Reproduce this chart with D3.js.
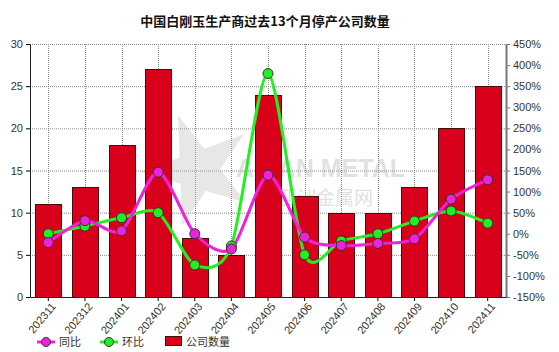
<!DOCTYPE html>
<html>
<head>
<meta charset="utf-8">
<script src="https://cdn.jsdelivr.net/npm/d3@7"></script>
<style>
  body { margin: 0; background: #fff; }
  svg text { font-family: "Liberation Sans", Arial, sans-serif; }
</style>
</head>
<body>
<svg class="chart"></svg>
<script>
let months = ["202311", "202312", "202401", "202402", "202403", "202404", "202405",
              "202406", "202407", "202408", "202409", "202410", "202411"]
let companies = [11, 13, 18, 27, 7, 5, 24, 12, 10, 10, 13, 20, 25]
let yoy = [-21, 31, 7, 146, 0, -36, 139, -8, -28, -23, -12, 82, 128]
let mom = [0, 18, 38, 50, -74, -29, 380, -50, -17, 0, 30, 54, 25]
let leftTicks = [0, 5, 10, 15, 20, 25, 30]
let rightTicks = [-150, -100, -50, 0, 50, 100, 150, 200, 250, 300, 350, 400, 450]

let width = 559
let height = 352
const margin = {top: 44, left: 30, right: 53, bottom: 55}

let svg = d3.select(".chart")
    .attr("width", width)
    .attr("height", height)

let xScale = d3.scaleBand()
    .domain(months)
    .range([margin.left, width - margin.right])
    .paddingInner(0.29)
    .paddingOuter(0.145)

let xCenter = d => xScale(d) + xScale.bandwidth() / 2

let yScale = d3.scaleLinear()
    .domain([0, 30])
    .range([height - margin.bottom, margin.top])

let pScale = d3.scaleLinear()
    .domain([-150, 450])
    .range([height - margin.bottom, margin.top])

// title
svg.append("text")
    .attr("x", 265)
    .attr("y", 26)
    .attr("text-anchor", "middle")
    .style("font-family", "'Noto Sans CJK SC', sans-serif")
    .style("font-size", "13px")
    .style("font-weight", "bold")
    .attr("fill", "#111")
    .text("中国白刚玉生产商过去13个月停产公司数量")

// grid
let grid = svg.append("g")
grid.selectAll("line.h")
    .data(leftTicks.slice(1))
    .enter()
    .append("line")
    .attr("x1", margin.left)
    .attr("x2", width - margin.right)
    .attr("y1", d => yScale(d) + 0.5)
    .attr("y2", d => yScale(d) + 0.5)
    .attr("stroke", "#888")
    .attr("stroke-dasharray", "1,1")
grid.selectAll("line.v")
    .data(months)
    .enter()
    .append("line")
    .attr("x1", d => Math.round(xCenter(d)) + 0.5)
    .attr("x2", d => Math.round(xCenter(d)) + 0.5)
    .attr("y1", margin.top)
    .attr("y2", height - margin.bottom)
    .attr("stroke", "#888")
    .attr("stroke-dasharray", "1,1")

// watermark
let wm = svg.append("g").attr("opacity", 0.35)
let star = d3.symbol().type(d3.symbolStar).size(3800)
wm.append("path")
    .attr("d", star())
    .attr("transform", "translate(198,170) rotate(-20)")
    .attr("fill", "#bbb")
wm.append("text")
    .attr("x", 236).attr("y", 177)
    .style("font-size", "25px").style("font-weight", "bold")
    .attr("fill", "#aaa")
    .text("ASIAN METAL")
wm.append("text")
    .attr("x", 278).attr("y", 205)
    .style("font-family", "'Noto Sans CJK SC', sans-serif")
    .style("font-size", "19px")
    .attr("fill", "#aaa")
    .text("亚洲金属网")

// bars
svg.append("g")
    .selectAll("rect")
    .data(companies)
    .enter()
    .append("rect")
    .attr("x", (d, i) => Math.round(xScale(months[i])) + 0.5)
    .attr("y", d => Math.round(yScale(d)) + 0.5)
    .attr("width", Math.round(xScale.bandwidth()))
    .attr("height", d => Math.round(yScale(0)) - Math.round(yScale(d)))
    .attr("fill", "#d9001b")
    .attr("stroke", "#4a0a0a")
    .attr("stroke-width", 1)

// axes
let leftAxis = svg.append("g")
    .attr("transform", `translate(${margin.left}, 0)`)
    .call(d3.axisLeft(yScale).tickValues(leftTicks).tickSize(4).tickSizeOuter(0))
leftAxis.select(".domain").attr("stroke", "#222")
leftAxis.selectAll("text").style("font-size", "11px").attr("fill", "#333")

let rightAxis = svg.append("g")
    .attr("transform", `translate(${width - margin.right}, 0)`)
    .call(d3.axisRight(pScale).tickValues(rightTicks).tickFormat(d => d + "%").tickSize(4).tickSizeOuter(0))
rightAxis.select(".domain").attr("stroke", "#777").attr("stroke-width", 2)
rightAxis.selectAll("line").attr("stroke", "#777")
rightAxis.selectAll("text").style("font-size", "11px").attr("fill", "#333")

let bottomAxis = svg.append("g")
    .attr("transform", `translate(0, ${height - margin.bottom})`)
    .call(d3.axisBottom(xScale).tickSize(4).tickSizeOuter(0))
bottomAxis.select(".domain").attr("stroke", "#222")
bottomAxis.selectAll("text")
    .style("font-size", "11px")
    .attr("fill", "#333")
    .attr("text-anchor", "end")
    .attr("dx", "-0.2em")
    .attr("dy", "0.5em")
    .attr("transform", "rotate(-50)")

// lines
let line = d3.line()
    .x((d, i) => xCenter(months[i]))
    .y(d => pScale(d))
    .curve(d3.curveCardinal.tension(0.2))

let series = [
    {values: mom, color: "#22ee22"},
    {values: yoy, color: "#ee22dd"}
]
series.forEach(s => {
    svg.append("path")
        .datum(s.values)
        .attr("d", line)
        .attr("fill", "none")
        .attr("stroke", s.color)
        .attr("stroke-width", 3)
})
series.forEach(s => {
    svg.append("g")
        .selectAll("circle")
        .data(s.values)
        .enter()
        .append("circle")
        .attr("cx", (d, i) => xCenter(months[i]))
        .attr("cy", d => pScale(d))
        .attr("r", 5)
        .attr("fill", s.color)
        .attr("stroke", "#333")
        .attr("stroke-width", 1)
})

// legend
let legend = svg.append("g").attr("transform", "translate(0, 342)")
let legendItems = [
    {name: "同比", color: "#ee22dd", x: 37},
    {name: "环比", color: "#22ee22", x: 100}
]
legendItems.forEach(l => {
    legend.append("line")
        .attr("x1", l.x).attr("x2", l.x + 18)
        .attr("stroke", l.color).attr("stroke-width", 3)
    legend.append("circle")
        .attr("cx", l.x + 9).attr("r", 4.5)
        .attr("fill", l.color).attr("stroke", "#333")
    legend.append("text")
        .attr("x", l.x + 22).attr("y", 4)
        .style("font-family", "'Noto Sans CJK SC', sans-serif")
        .style("font-size", "11px").attr("fill", "#333")
        .text(l.name)
})
legend.append("rect")
    .attr("x", 165.5).attr("y", -5.5)
    .attr("width", 16).attr("height", 9)
    .attr("fill", "#d9001b").attr("stroke", "#4a0a0a")
legend.append("text")
    .attr("x", 186).attr("y", 4)
    .style("font-family", "'Noto Sans CJK SC', sans-serif")
    .style("font-size", "11px").attr("fill", "#333")
    .text("公司数量")
</script>
</body>
</html>
